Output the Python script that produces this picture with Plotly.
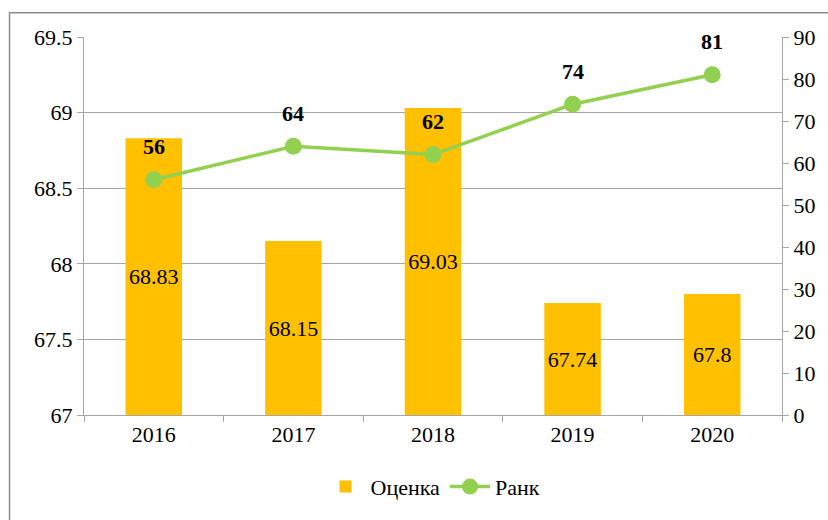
import plotly.graph_objects as go

years = ["2016", "2017", "2018", "2019", "2020"]
scores = [68.83, 68.15, 69.03, 67.74, 67.8]
ranks = [56, 64, 62, 74, 81]
score_base = 67

FONT = "Liberation Serif"
GRID = "#A6A6A6"

fig = go.Figure()
fig.add_trace(go.Bar(
    x=years, y=[s - score_base for s in scores], base=score_base,
    name="Оценка", marker=dict(color="#FFC000", line=dict(width=0)),
    width=0.405, text=[str(s) for s in scores], textposition="inside",
    insidetextanchor="middle", textfont=dict(family=FONT, size=22, color="#000000"),
    hoverinfo="skip",
))
fig.add_trace(go.Scatter(
    x=years, y=ranks, yaxis="y2", name="Ранк", mode="lines+markers",
    line=dict(color="#92D050", width=3.5), marker=dict(color="#92D050", size=17),
))
for i, r in enumerate(ranks):
    fig.add_annotation(x=i, y=r, xref="x", yref="y2", text="<b>%d</b>" % r, showarrow=False,
                       yshift=33, font=dict(family=FONT, size=22, color="#000000"))

fig.add_shape(type="rect", xref="paper", yref="paper", x0=-0.1067, x1=1.2,
              y0=-0.5, y1=1.064, line=dict(color="#8C8C8C", width=1.5),
              fillcolor="rgba(0,0,0,0)", layer="below")

fig.update_layout(
    width=828, height=520, margin=dict(l=84, r=46, t=37, b=100),
    paper_bgcolor="white", plot_bgcolor="white",
    font=dict(family=FONT, size=22, color="#000000"),
    showlegend=True,
    legend=dict(orientation="h", x=0.5, xanchor="center", y=-0.19, yanchor="middle",
                font=dict(family=FONT, size=22), itemwidth=40),
    xaxis=dict(type="category", range=[-0.5, 4.5], autorange=False, showgrid=False,
               showline=True, linecolor=GRID,
               ticks="outside", tickson="boundaries", ticklen=6, tickcolor=GRID,
               tickfont=dict(family=FONT, size=22), tickangle=0),
    yaxis=dict(range=[67, 69.5], dtick=0.5, showgrid=True, gridcolor=GRID,
               showline=True, linecolor=GRID, ticks="outside", ticklen=6, tickcolor=GRID,
               zeroline=False, tickfont=dict(family=FONT, size=22)),
    yaxis2=dict(range=[0, 90], dtick=10, overlaying="y", side="right", showgrid=False,
                showline=True, linecolor=GRID, ticks="outside", ticklen=6, tickcolor=GRID,
                zeroline=False, tickfont=dict(family=FONT, size=22)),
)

fig.write_html("out.html", config={"displayModeBar": False},
               post_script="document.body.style.margin='0';document.body.style.overflow='hidden';")
